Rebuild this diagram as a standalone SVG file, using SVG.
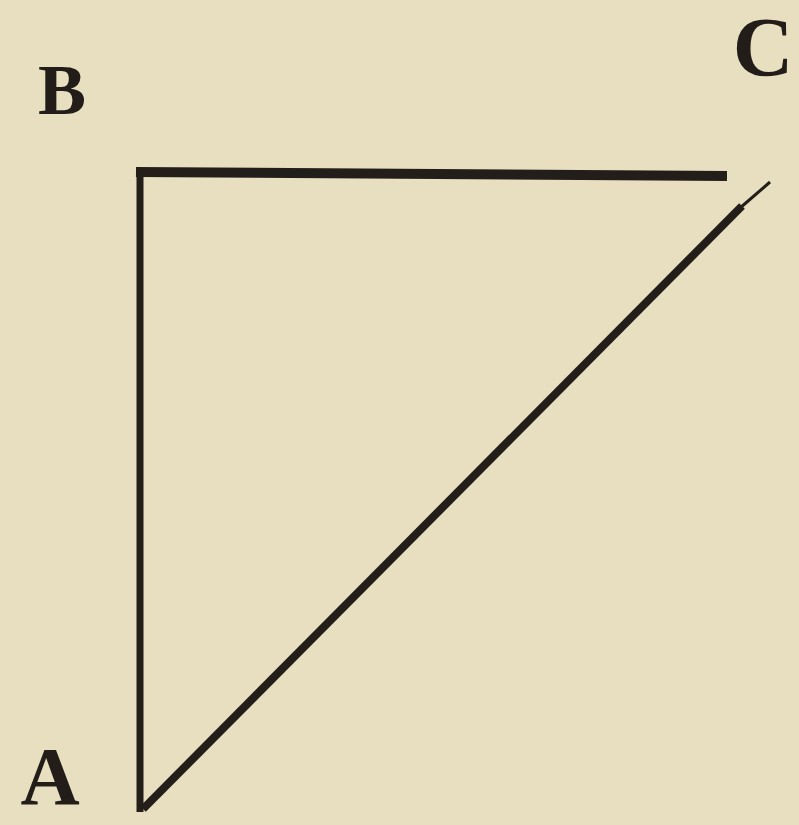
<svg xmlns="http://www.w3.org/2000/svg" width="799" height="825" viewBox="0 0 799 825">
<style>
.bg{fill:#e7dfbf}
.edge{stroke:#231e19;fill:none;stroke-linecap:butt;stroke-linejoin:miter}
.lbl{font-family:"Liberation Serif","DejaVu Serif",serif;font-weight:bold;fill:#221d19;text-anchor:middle}
</style>
<rect class="bg" x="0" y="0" width="799" height="825"/>
<g id="connectors">
<path class="edge" d="M136,172 L727,176" stroke-width="10"/>
<path class="edge" d="M140,168 L140,812" stroke-width="7"/>
<path class="edge" d="M143,809 L742,206" stroke-width="8"/>
<path class="edge" d="M740,208 L770,182" stroke-width="3"/>
</g>
<g id="node-B"><text class="lbl" x="62" y="114" font-size="72">B</text></g>
<g id="node-C"><text class="lbl" x="763" y="76" font-size="84">C</text></g>
<g id="node-A"><text class="lbl" x="50" y="804" font-size="82">A</text></g>
</svg>
